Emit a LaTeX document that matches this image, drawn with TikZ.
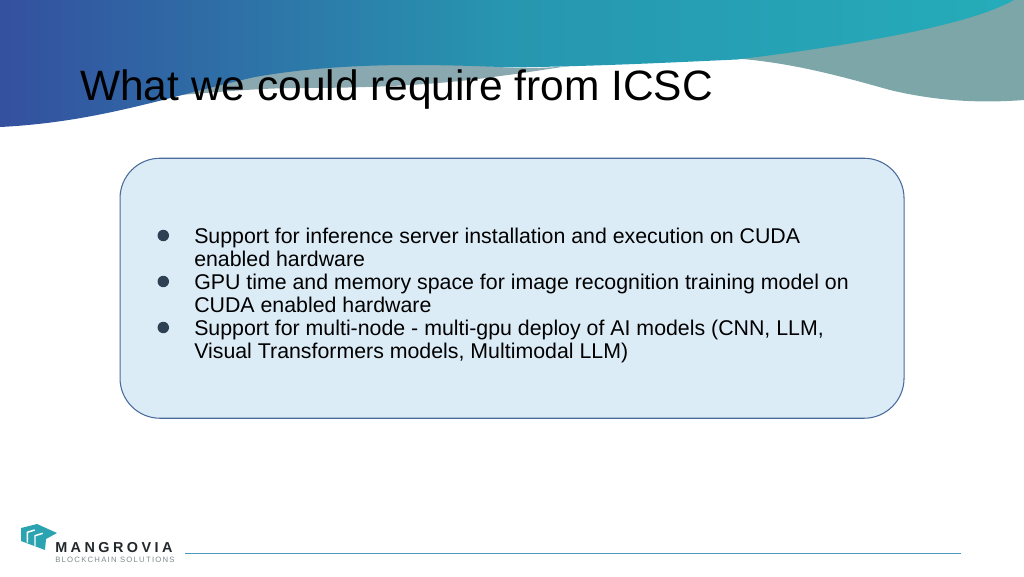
\documentclass[tikz,border=0pt]{standalone}
\usepackage{fontspec}
\setmainfont{Liberation Sans}
\definecolor{boxfill}{HTML}{DCECF7}
\definecolor{boxline}{HTML}{4A6C9C}
\definecolor{wavegrey}{HTML}{7DA6A8}
\definecolor{wavegreyb}{HTML}{8AA8B0}
\definecolor{waveblue}{HTML}{34509F}
\definecolor{wavemid}{HTML}{2796B0}
\definecolor{waveteal}{HTML}{25ACB9}
\definecolor{logoteal}{HTML}{2CA3B0}
\definecolor{logotext}{HTML}{23282C}
\definecolor{logosub}{HTML}{7C8A8C}
\definecolor{rulecol}{HTML}{4A9AC4}
\definecolor{bulletcol}{HTML}{2E4053}
\tikzset{
  x=0.75pt,y=-0.75pt,
  titletext/.style={anchor=base west,inner sep=0pt,font=\fontsize{31.85pt}{36pt}\selectfont,text=black},
  bodytext/.style={anchor=base west,inner sep=0pt,font=\fontsize{16pt}{18pt}\selectfont,text=black},
  bulletdot/.style={circle,fill=bulletcol,inner sep=0pt,minimum size=8.6pt},
}
\begin{document}
\begin{tikzpicture}
\useasboundingbox (0,0) rectangle (1024,576);
% grey waves
\fill[wavegreyb] (180,95) .. controls (260,62) and (400,58) .. (512,68) .. controls (530,68) and (550,68) .. (570,66) .. controls (540,70) and (525,73) .. (500,76) .. controls (440,85) and (370,88) .. (300,88) .. controls (260,88) and (220,92) .. (180,95) -- cycle;
\fill[wavegrey] (730,58) .. controls (790,62) and (840,76) .. (890,90) .. controls (940,102) and (985,103) .. (1024,100) -- (1024,0) -- (1000,0) -- cycle;
% gradient wave
\shade[left color=waveblue,right color=waveteal,middle color=wavemid]
 (0,0) -- (1014,0) .. controls (975,22) and (880,42) .. (737,59.5)
 .. controls (660,63) and (600,66) .. (512,67.5)
 .. controls (430,64) and (340,62) .. (255,77)
 .. controls (170,96) and (100,122) .. (0,127) -- cycle;
% title
\node[titletext] (title) at (80,100) {What we could require from ICSC};
% panel
\node[draw=boxline,fill=boxfill,line width=0.8pt,rounded corners=30pt,minimum width=588pt,minimum height=195pt,inner sep=0pt,anchor=north west] (panel) at (119.5,157.7) {};
% bullets
\node[bulletdot] (b1) at (163.3,235.5) {};
\node[bulletdot] (b2) at (163.3,281.5) {};
\node[bulletdot] (b3) at (163.3,327.5) {};
\node[bodytext] (l1) at (194,243) {Support for inference server installation and execution on CUDA};
\node[bodytext] (l2) at (194,266) {enabled hardware};
\node[bodytext] (l3) at (194,289) {GPU time and memory space for image recognition training model on};
\node[bodytext] (l4) at (194,312) {CUDA enabled hardware};
\node[bodytext] (l5) at (194,335) {Support for multi-node - multi-gpu deploy of AI models (CNN, LLM,};
\node[bodytext] (l6) at (194,358) {Visual Transformers models, Multimodal LLM)};
% logo
\fill[logoteal] (21,528) -- (37,524) -- (57,533) -- (46,539) -- (45,550) -- (21,541) -- cycle;
\draw[white,line width=1.1pt] (27.3,542.7) -- (27.3,532.3) -- (34.7,530);
\draw[white,line width=1.1pt] (35,546) -- (35,535.7) -- (42.7,533.3);
\node[anchor=base west,inner sep=0pt,font=\bfseries\fontsize{10.8pt}{12pt}\selectfont\addfontfeature{LetterSpace=24},text=logotext] (logoa) at (55,552) {MANGROVIA};
\node[anchor=base west,inner sep=0pt,font=\fontsize{5.8pt}{6pt}\selectfont\addfontfeature{LetterSpace=16},text=logosub] (logob) at (55,562) {BLOCKCHAIN SOLUTIONS};
% rule
\coordinate (ra) at (185,553.3);
\coordinate (rb) at (961,553.3);
\draw[rulecol,line width=0.75pt] (ra) -- (rb);
\end{tikzpicture}
\end{document}
